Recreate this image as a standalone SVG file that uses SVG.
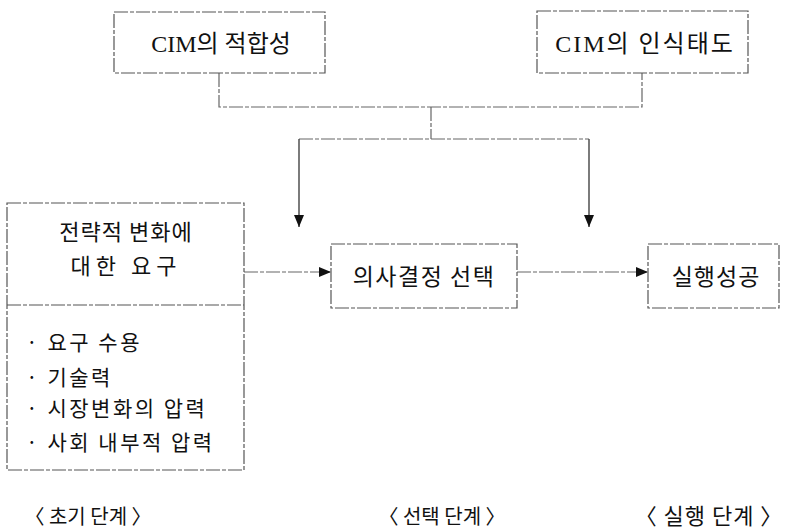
<svg xmlns="http://www.w3.org/2000/svg" width="789" height="530" viewBox="0 0 789 530">
<style>
  .box{fill:none;stroke:#555;stroke-width:1.2;stroke-dasharray:14 2 4 2}
  .ln{fill:none;stroke:#666;stroke-width:1.2;stroke-dasharray:14 2 4 2}
  .ar{fill:none;stroke:#444;stroke-width:1.4}
  .t{font-family:"Liberation Serif","Noto Sans CJK KR",serif;fill:#111}
  .k{font-family:"Noto Sans CJK KR","Liberation Serif",sans-serif;fill:#111}
</style>
<defs>
  <marker id="ah" viewBox="0 0 12 10" refX="12" refY="5" markerWidth="12" markerHeight="10" markerUnits="userSpaceOnUse" orient="auto">
    <path d="M0,0 L12,5 L0,10 Z" fill="#111"/>
  </marker>
</defs>
<g id="connectors">
  <path class="ln" d="M219,73 V107 H642 V73"/>
  <path class="ln" d="M431,107 V139"/>
  <path class="ln" d="M299,139 H589"/>
  <path class="ar" d="M299,139 V227" marker-end="url(#ah)"/>
  <path class="ar" d="M589,139 V227" marker-end="url(#ah)"/>
  <path class="ln" d="M244,272 H331" marker-end="url(#ah)"/>
  <path class="ln" d="M517,272 H648" marker-end="url(#ah)"/>
</g>
<g id="cim-fit">
  <rect class="box" x="114" y="12" width="211" height="61"/>
  <text class="t" x="221" y="52" font-size="24" text-anchor="middle">CIM의 적합성</text>
</g>
<g id="cim-attitude">
  <rect class="box" x="537" y="11" width="211" height="62"/>
  <text class="t" x="645" y="52" font-size="24" text-anchor="middle" letter-spacing="2">CIM의 인식태도</text>
</g>
<g id="demand">
  <rect class="box" x="7" y="203" width="237" height="267"/>
  <line class="box" x1="7" y1="305" x2="244" y2="305"/>
  <text class="k" x="126" y="240" font-size="22" text-anchor="middle" letter-spacing="1">전략적 변화에</text>
  <text class="k" x="126" y="274" font-size="22" text-anchor="middle" letter-spacing="5">대한 요구</text>
  <g class="k" font-size="21" letter-spacing="2.5">
    <text x="26" y="350">· 요구 수용</text>
    <text x="26" y="385">· 기술력</text>
    <text x="26" y="416">· 시장변화의 압력</text>
    <text x="26" y="450">· 사회 내부적 압력</text>
  </g>
</g>
<g id="decision">
  <rect class="box" x="331" y="244" width="186" height="64"/>
  <text class="k" x="424" y="285" font-size="23" text-anchor="middle" letter-spacing="1.5">의사결정 선택</text>
</g>
<g id="success">
  <rect class="box" x="648" y="244" width="131" height="64"/>
  <text class="k" x="716" y="285" font-size="23" text-anchor="middle" letter-spacing="1">실행성공</text>
</g>
<g id="stages" class="k" text-anchor="middle">
  <text x="88" y="524" font-size="20">〈 초기 단계 〉</text>
  <text x="442" y="524" font-size="20">〈 선택 단계 〉</text>
  <text x="709" y="524" font-size="22" letter-spacing="1">〈 실행 단계 〉</text>
</g>
</svg>
